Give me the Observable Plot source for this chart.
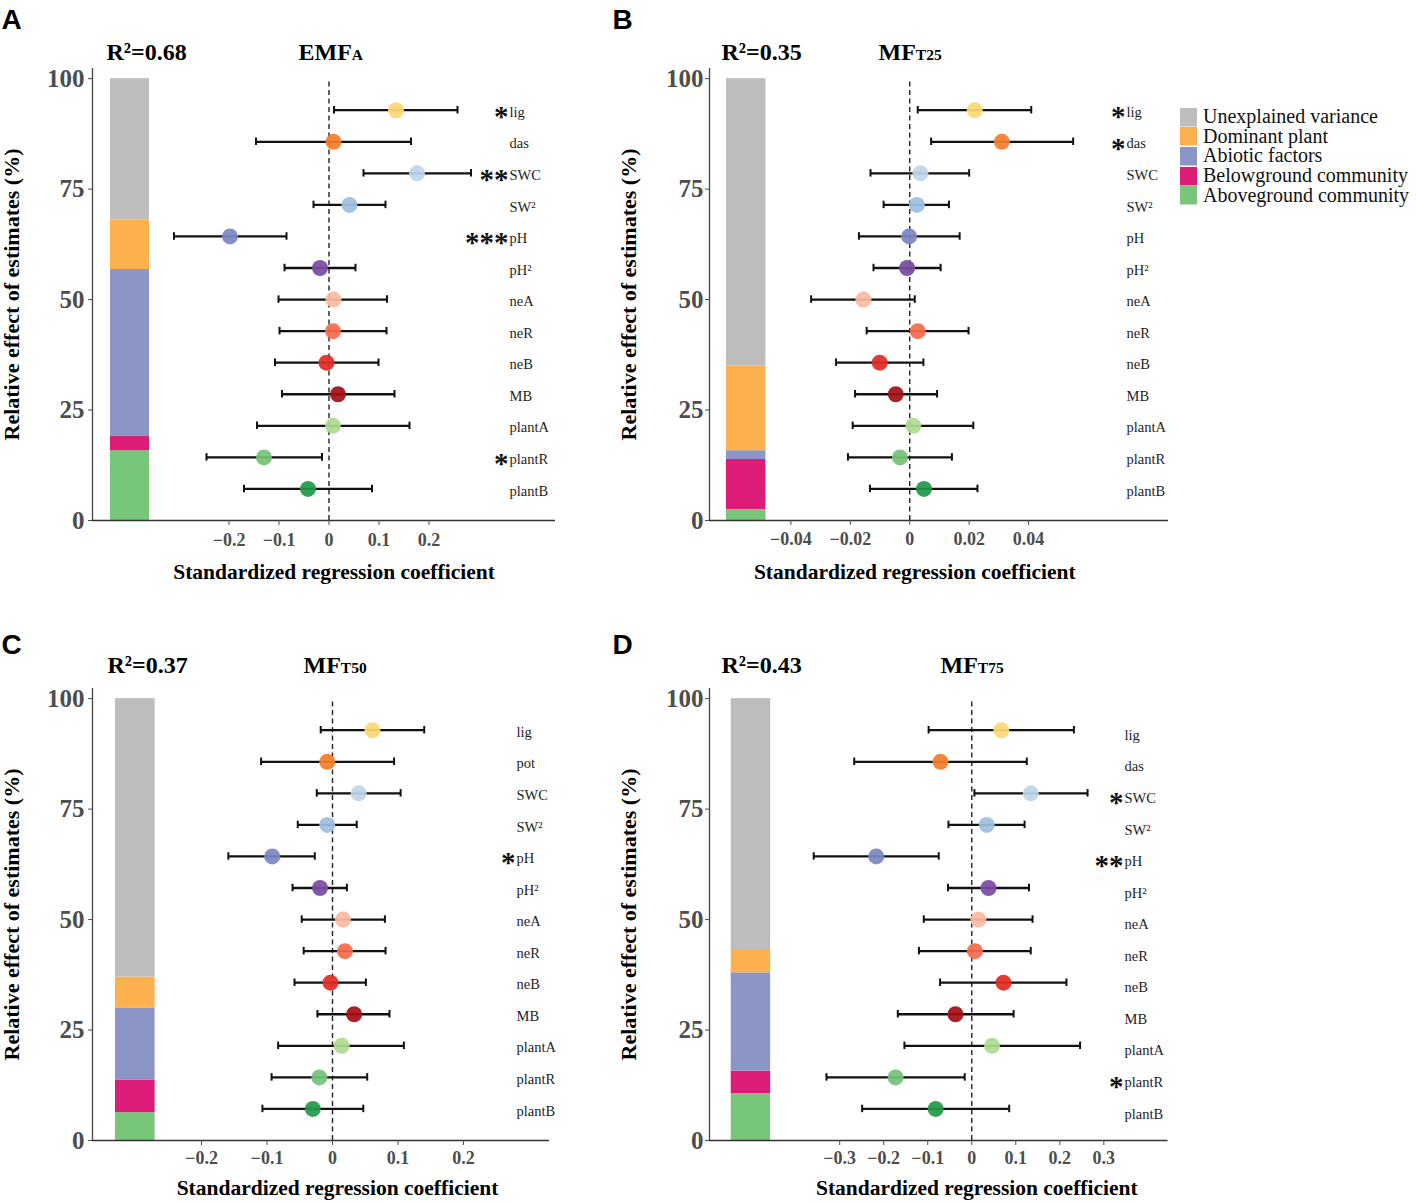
<!DOCTYPE html>
<html>
<head>
<meta charset="utf-8">
<script src="https://cdn.jsdelivr.net/npm/d3@7"></script>
<script src="https://cdn.jsdelivr.net/npm/@observablehq/plot@0.6"></script>
<style>
  html, body { margin: 0; padding: 0; background: #fff; overflow: hidden; }
  #fig { position: relative; width: 1417px; height: 1202px; background: #fff; overflow: hidden; }
  .panel { position: absolute; }
  .panel svg { overflow: visible; }
  #legend { position: absolute; left: 1180px; top: 107px; width: 237px; }
  .lg-swatch { height: 19.7px; padding-bottom: 0 !important; margin: 0 !important; }
  .lg-swatch svg { margin-right: 6px !important; }
  .lg-swatch-label { line-height: 19.7px; overflow: visible !important; text-overflow: clip !important; }
</style>
</head>
<body>
<div id="fig"></div>
<script>
// ---------------- DATA ----------------
const groups = ["Unexplained variance", "Dominant plant", "Abiotic factors", "Belowground community", "Aboveground community"];
const groupColors = ["#bdbdbd", "#fdb04e", "#8b96c7", "#dd1c77", "#78c679"];

const rowColors = ["#fdd772", "#f47e2b", "#bfd5ea", "#9dbfe0", "#7b86c2", "#7a4ba2",
                   "#fbbaa0", "#f96b4b", "#e12b25", "#a30f16", "#acdc8f", "#73c377", "#23994a"];

const rowsA = ["lig", "das", "SWC", "SW²", "pH", "pH²", "neA", "neR", "neB", "MB", "plantA", "plantR", "plantB"];
const rowsB = ["lig", "das", "SWC", "SW²", "pH", "pH²", "neA", "neR", "neB", "MB", "plantA", "plantR", "plantB"];
const rowsC = ["lig", "pot", "SWC", "SW²", "pH", "pH²", "neA", "neR", "neB", "MB", "plantA", "plantR", "plantB"];
const rowsD = ["lig", "das", "SWC", "SW²", "pH", "pH²", "neA", "neR", "neB", "MB", "plantA", "plantR", "plantB"];

// Panel A (EMF_A)
const estA = [0.134, 0.009, 0.176, 0.041, -0.198, -0.018, 0.009, 0.008, -0.005, 0.018, 0.008, -0.130, -0.042];
const loA  = [0.010, -0.146, 0.069, -0.031, -0.310, -0.089, -0.101, -0.099, -0.108, -0.094, -0.144, -0.245, -0.170];
const hiA  = [0.257, 0.164, 0.284, 0.113, -0.085, 0.053, 0.116, 0.115, 0.099, 0.131, 0.161, -0.014, 0.086];
const starsA = ["*", "", "**", "", "***", "", "", "", "", "", "", "*", ""];
const shareA = [32, 11.2, 37.8, 3.2, 15.8];

// Panel B (MF_T25)
const estB = [0.0219, 0.0310, 0.0036, 0.0024, -0.0002, -0.0009, -0.0156, 0.0027, -0.0101, -0.0047, 0.0012, -0.0033, 0.0048];
const loB  = [0.0027, 0.0072, -0.0132, -0.0088, -0.0171, -0.0122, -0.0332, -0.0145, -0.0248, -0.0184, -0.0192, -0.0208, -0.0134];
const hiB  = [0.0409, 0.0550, 0.0200, 0.0132, 0.0168, 0.0104, 0.0017, 0.0198, 0.0046, 0.0092, 0.0214, 0.0142, 0.0228];
const starsB = ["*", "*", "", "", "", "", "", "", "", "", "", "", ""];
const shareB = [65, 19.2, 2.0, 11.3, 2.5];

// Panel C (MF_T50)
const estC = [0.061, -0.008, 0.040, -0.008, -0.092, -0.019, 0.016, 0.019, -0.003, 0.033, 0.014, -0.020, -0.030];
const loC  = [-0.018, -0.109, -0.024, -0.053, -0.159, -0.061, -0.047, -0.044, -0.058, -0.023, -0.083, -0.093, -0.107];
const hiC  = [0.140, 0.094, 0.104, 0.037, -0.027, 0.022, 0.080, 0.081, 0.051, 0.087, 0.109, 0.053, 0.047];
const starsC = ["", "", "", "", "*", "", "", "", "", "", "", "", ""];
const shareC = [63, 7.0, 16.4, 7.3, 6.3];

// Panel D (MF_T75)
const estD = [0.067, -0.071, 0.134, 0.034, -0.217, 0.038, 0.015, 0.007, 0.072, -0.037, 0.046, -0.173, -0.082];
const loD  = [-0.098, -0.267, 0.006, -0.053, -0.359, -0.054, -0.109, -0.120, -0.072, -0.168, -0.153, -0.330, -0.249];
const hiD  = [0.232, 0.125, 0.263, 0.120, -0.075, 0.130, 0.138, 0.134, 0.215, 0.095, 0.246, -0.016, 0.085];
const starsD = ["", "", "*", "", "**", "", "", "", "", "", "", "*", ""];
const shareD = [57, 5.05, 22.25, 5.1, 10.6];

const r2Labels = ["R²=0.68", "R²=0.35", "R²=0.37", "R²=0.43"];
const titleMain = ["EMF", "MF", "MF", "MF"];
const titleSub = ["A", "T25", "T50", "T75"];
const panelLetters = ["A", "B", "C", "D"];
const yTicks = [0, 25, 50, 75, 100];
const xTicksA = [-0.2, -0.1, 0, 0.1, 0.2];
const xTicksB = [-0.04, -0.02, 0, 0.02, 0.04];
const xTicksC = [-0.2, -0.1, 0, 0.1, 0.2];
const xTicksD = [-0.3, -0.2, -0.1, 0, 0.1, 0.2, 0.3];
const xTitle = "Standardized regression coefficient";
const yTitle = "Relative effect of estimates (%)";

// ---------------- LAYOUT ----------------
const SERIF = "'Liberation Serif', 'Times New Roman', Times, serif";
const SANS = "'Liberation Sans', Arial, Helvetica, sans-serif";
const H = 600, MT = 68, MB = 80;

const layouts = [
  {left: 0, top: 0, W: 600, ml: 92, mr: 45, xDomain: [-0.473, 0.453], bar: [-0.437, -0.359], xTicks: xTicksA,
   xPad: 8, yPad: 4, labelX: 417, labelDy: 2, letterBase: 28, titleBase: 59, r2X: 106, titleX: 298, xTitleDy: 52},
  {left: 611, top: 0, W: 570, ml: 98, mr: 13, xDomain: [-0.0674, 0.0871], bar: [-0.0617, -0.0484], xTicks: xTicksB,
   xPad: 7, yPad: 2, labelX: 417, labelDy: 2, letterBase: 28, titleBase: 59, r2X: 110, titleX: 267, xTitleDy: 52},
  {left: 0, top: 620, W: 600, ml: 92, mr: 51, xDomain: [-0.3664, 0.3313], bar: [-0.3313, -0.2708], xTicks: xTicksC,
   xPad: 5.5, yPad: 4, labelX: 424, labelDy: 2, letterBase: 33.5, titleBase: 52.7, r2X: 107, titleX: 303, xTitleDy: 48},
  {left: 611, top: 620, W: 570, ml: 98, mr: 13.5, xDomain: [-0.5957, 0.4457], bar: [-0.5464, -0.4568], xTicks: xTicksD,
   xPad: 5.5, yPad: 2, labelX: 415, labelDy: 5, letterBase: 33.5, titleBase: 52.7, r2X: 110, titleX: 329, xTitleDy: 48}
];

const panelData = [
  {rows: rowsA, est: estA, lo: loA, hi: hiA, stars: starsA, share: shareA},
  {rows: rowsB, est: estB, lo: loB, hi: hiB, stars: starsB, share: shareB},
  {rows: rowsC, est: estC, lo: loC, hi: hiC, stars: starsC, share: shareC},
  {rows: rowsD, est: estD, lo: loD, hi: hiD, stars: starsD, share: shareD}
];

const ctx = document.createElement("canvas").getContext("2d");
function textWidth(s, font) { ctx.font = font; return ctx.measureText(s).width; }

function makePanel(i) {
  const L = layouts[i], D = panelData[i];
  const n = D.rows.length;
  const forest = D.rows.map((name, k) => ({
    name, est: D.est[k], lo: D.lo[k], hi: D.hi[k], star: D.stars[k], color: rowColors[k],
    y: (n - k) * 100 / (n + 1)
  }));
  // stacked bar bottom-up
  const order = [4, 3, 2, 1, 0];
  let acc = 0;
  const stack = order.map(g => {
    const y1 = acc; acc += D.share[g];
    return {group: groups[g], y1, y2: acc, color: groupColors[g]};
  });
  const cap = 0.85;
  const mainW = textWidth(titleMain[i], `bold 24px ${SERIF}`);
  const fmt = d3.format("");
  return Plot.plot({
    width: L.W, height: H,
    marginLeft: L.ml, marginRight: L.mr, marginTop: MT, marginBottom: MB,
    x: {domain: L.xDomain, axis: null},
    y: {domain: [0, 102.3], axis: null},
    color: {type: "identity"},
    style: {fontFamily: SERIF, background: "transparent", overflow: "visible"},
    marks: [
      Plot.rect(stack, {x1: () => L.bar[0], x2: () => L.bar[1], y1: "y1", y2: "y2", fill: "color"}),
      Plot.ruleY([0], {stroke: "#333", strokeWidth: 1.3}),
      Plot.ruleX([L.xDomain[0]], {stroke: "#444", strokeWidth: 1.3}),
      Plot.axisY({ticks: yTicks, tickSize: 4, tickPadding: L.yPad, fontSize: 25, fontWeight: "bold",
                  color: "#4d4d4d", label: null, tickFormat: d3.format("d")}),
      Plot.axisX({ticks: L.xTicks, tickSize: 5, tickPadding: L.xPad, fontSize: 18, fontWeight: "bold",
                  color: "#4d4d4d", label: null, tickFormat: fmt}),
      Plot.ruleX([0], {y1: 0, y2: 100, stroke: "#222", strokeWidth: 1.4, strokeDasharray: "5,3.5"}),
      Plot.ruleY(forest, {x1: "lo", x2: "hi", y: "y", stroke: "#111", strokeWidth: 2.3}),
      Plot.ruleX(forest, {x: "lo", y1: d => d.y - cap, y2: d => d.y + cap, stroke: "#111", strokeWidth: 2}),
      Plot.ruleX(forest, {x: "hi", y1: d => d.y - cap, y2: d => d.y + cap, stroke: "#111", strokeWidth: 2}),
      Plot.dot(forest, {x: "est", y: "y", r: 8, fill: "color", fillOpacity: 0.93, stroke: null}),
      Plot.text(forest, {y: "y", text: "name", frameAnchor: "left", dx: L.labelX, dy: L.labelDy,
                         textAnchor: "start", lineAnchor: "middle", fontSize: 14.5, fill: "#1e1e1e"}),
      Plot.text(forest.filter(d => d.star), {y: "y", text: "star", frameAnchor: "left", dx: L.labelX - 1, dy: L.labelDy + 4.5,
                         textAnchor: "end", lineAnchor: "middle", fontSize: 29, fontWeight: "bold", fill: "#111"}),
      // panel letter
      Plot.text([panelLetters[i]], {text: d => d, frameAnchor: "top-left", dx: 1 - L.ml, dy: L.letterBase - MT,
                 lineAnchor: "bottom", textAnchor: "start", fontFamily: SANS, fontSize: 28, fontWeight: "bold", fill: "#000"}),
      // R2
      Plot.text([r2Labels[i]], {text: d => d, frameAnchor: "top-left", dx: L.r2X - L.ml, dy: L.titleBase - MT,
                 lineAnchor: "bottom", textAnchor: "start", fontSize: 24, fontWeight: "bold", fill: "#000"}),
      // title
      Plot.text([titleMain[i]], {text: d => d, frameAnchor: "top-left", dx: L.titleX - L.ml, dy: L.titleBase - MT,
                 lineAnchor: "bottom", textAnchor: "start", fontSize: 24, fontWeight: "bold", fill: "#000"}),
      Plot.text([titleSub[i]], {text: d => d, frameAnchor: "top-left", dx: L.titleX - L.ml + mainW, dy: L.titleBase - MT,
                 lineAnchor: "bottom", textAnchor: "start", fontSize: 15.5, fontWeight: "bold", fill: "#000"}),
      // axis titles
      Plot.text([yTitle], {text: d => d, frameAnchor: "left", dx: -81, rotate: -90,
                 textAnchor: "middle", lineAnchor: "middle", fontSize: 22, fontWeight: "bold", fill: "#000"}),
      Plot.text([xTitle], {text: d => d, x: () => 0, frameAnchor: "bottom", dx: 5, dy: L.xTitleDy,
                 textAnchor: "middle", lineAnchor: "middle", fontSize: 21.5, fontWeight: "bold", fill: "#000"})
    ]
  });
}

const fig = document.getElementById("fig");
layouts.forEach((L, i) => {
  const div = document.createElement("div");
  div.className = "panel";
  div.style.left = L.left + "px";
  div.style.top = L.top + "px";
  div.appendChild(makePanel(i));
  fig.appendChild(div);
});

const legend = Plot.legend({
  color: {type: "ordinal", domain: groups, range: groupColors},
  legend: "swatches", columns: 1, swatchWidth: 17, swatchHeight: 18.5, className: "lg",
  style: {fontFamily: SERIF, fontSize: "20px", color: "#111"}
});
legend.id = "legend";
fig.appendChild(legend);
</script>
</body>
</html>
